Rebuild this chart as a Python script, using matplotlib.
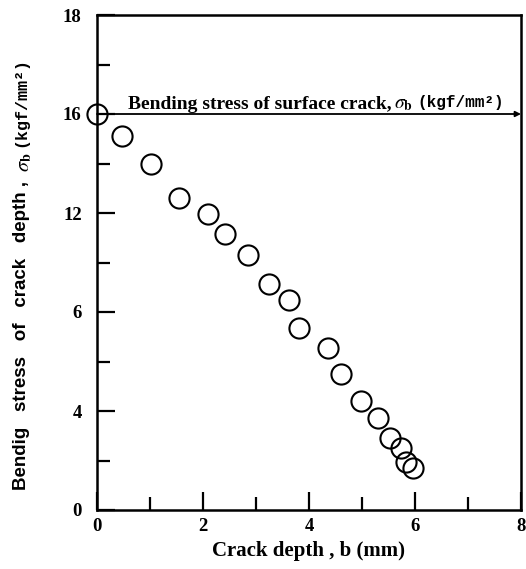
import matplotlib
matplotlib.use("Agg")
import matplotlib.pyplot as plt
from matplotlib.ticker import FixedLocator, FixedFormatter, MultipleLocator

# Data
crack_depth = [0.0, 0.48, 1.01, 1.54, 2.09, 2.42, 2.84, 3.25, 3.62, 3.82,
               4.35, 4.61, 4.99, 5.31, 5.52, 5.74, 5.83, 5.97]
bending_stress = [16.0, 15.1, 14.0, 12.6, 11.95, 11.15, 10.3, 9.15, 8.5, 7.35,
                  6.55, 5.5, 4.4, 3.7, 2.9, 2.5, 1.95, 1.7]
surface_stress = 16.0

x_ticks = [0, 2, 4, 6, 8]
x_tick_labels = ["0", "2", "4", "6", "8"]
y_ticks = [0, 4, 8, 12, 16, 20]
y_tick_labels = ["0", "4", "6", "12", "16", "18"]

W, H = 526, 569
fig = plt.figure(figsize=(W / 100, H / 100), dpi=100)
ax = fig.add_axes([97 / W, 1 - 510 / H, (521 - 97) / W, (510 - 15) / H])

serif = "Liberation Serif"
sans = "Liberation Sans"
mono = "Liberation Mono"

ax.plot(crack_depth, bending_stress, linestyle="none", marker="o", markersize=14.5,
        markerfacecolor="none", markeredgecolor="black", markeredgewidth=1.5,
        clip_on=False, zorder=3)

ax.set_xlim(0, 8)
ax.set_ylim(0, 20)

for s in ax.spines.values():
    s.set_linewidth(1.8)

ax.xaxis.set_major_locator(FixedLocator(x_ticks))
ax.xaxis.set_major_formatter(FixedFormatter(x_tick_labels))
ax.xaxis.set_minor_locator(MultipleLocator(1))
ax.yaxis.set_major_locator(FixedLocator(y_ticks))
ax.yaxis.set_major_formatter(FixedFormatter(y_tick_labels))
ax.yaxis.set_minor_locator(MultipleLocator(2))

ax.tick_params(which="both", direction="in", top=False, right=False, width=1.6)
ax.tick_params(which="major", length=13)
ax.tick_params(which="minor", length=9.5)
ax.tick_params(axis="y", which="major", pad=11)
ax.tick_params(axis="x", which="major", pad=6)
for lab in ax.get_xticklabels() + ax.get_yticklabels():
    lab.set_fontfamily(serif)
    lab.set_fontweight("bold")
    lab.set_fontsize(13.5)

# Horizontal reference line with arrow
ax.annotate("", xy=(8, surface_stress), xytext=(0, surface_stress),
            arrowprops=dict(arrowstyle="-|>", color="black", lw=1.3,
                            mutation_scale=8, shrinkA=0, shrinkB=0))

t1 = ax.text(0.58, surface_stress + 0.22,
             "Bending stress of surface crack,",
             fontfamily=serif, fontweight="bold", fontsize=14,
             va="baseline", ha="left")

ax.set_xlabel("Crack depth , b (mm)", fontfamily=serif, fontweight="bold",
              fontsize=15, labelpad=4)

ylab1 = fig.text(22 / W, 1 - 490 / H, "Bendig   stress   of   crack   depth ,",
                 fontfamily=sans, fontweight="bold", fontsize=13.5,
                 rotation=90, ha="center", va="bottom")

fig.canvas.draw()
r = fig.canvas.get_renderer()

bb = t1.get_window_extent(r)
base_disp = ax.transData.transform((0.58, surface_stress + 0.22))[1]
t2 = fig.text((bb.x1 + 3) / W, base_disp / H, r"$\sigma_\mathbf{b}$",
              fontsize=14, va="baseline", ha="left", math_fontfamily="stix")
fig.canvas.draw()
bb2 = t2.get_window_extent(r)
fig.text((bb2.x1 + 4) / W, (base_disp + 2) / H, "(kgf/mm²)",
         fontfamily=mono, fontweight="bold", fontsize=11.5,
         va="baseline", ha="left")

bby = ylab1.get_window_extent(r)
ylab2 = fig.text(24 / W, (bby.y1 + 9) / H, r"$\sigma_\mathbf{b}$",
                 fontsize=14.5, rotation=90, ha="center", va="bottom",
                 math_fontfamily="stix")
fig.canvas.draw()
bby2 = ylab2.get_window_extent(r)
fig.text(21 / W, (bby2.y1 + 6) / H, "(kgf/mm²)",
         fontfamily=mono, fontweight="bold", fontsize=12,
         rotation=90, ha="center", va="bottom")

fig.savefig("out.png", dpi=100)
